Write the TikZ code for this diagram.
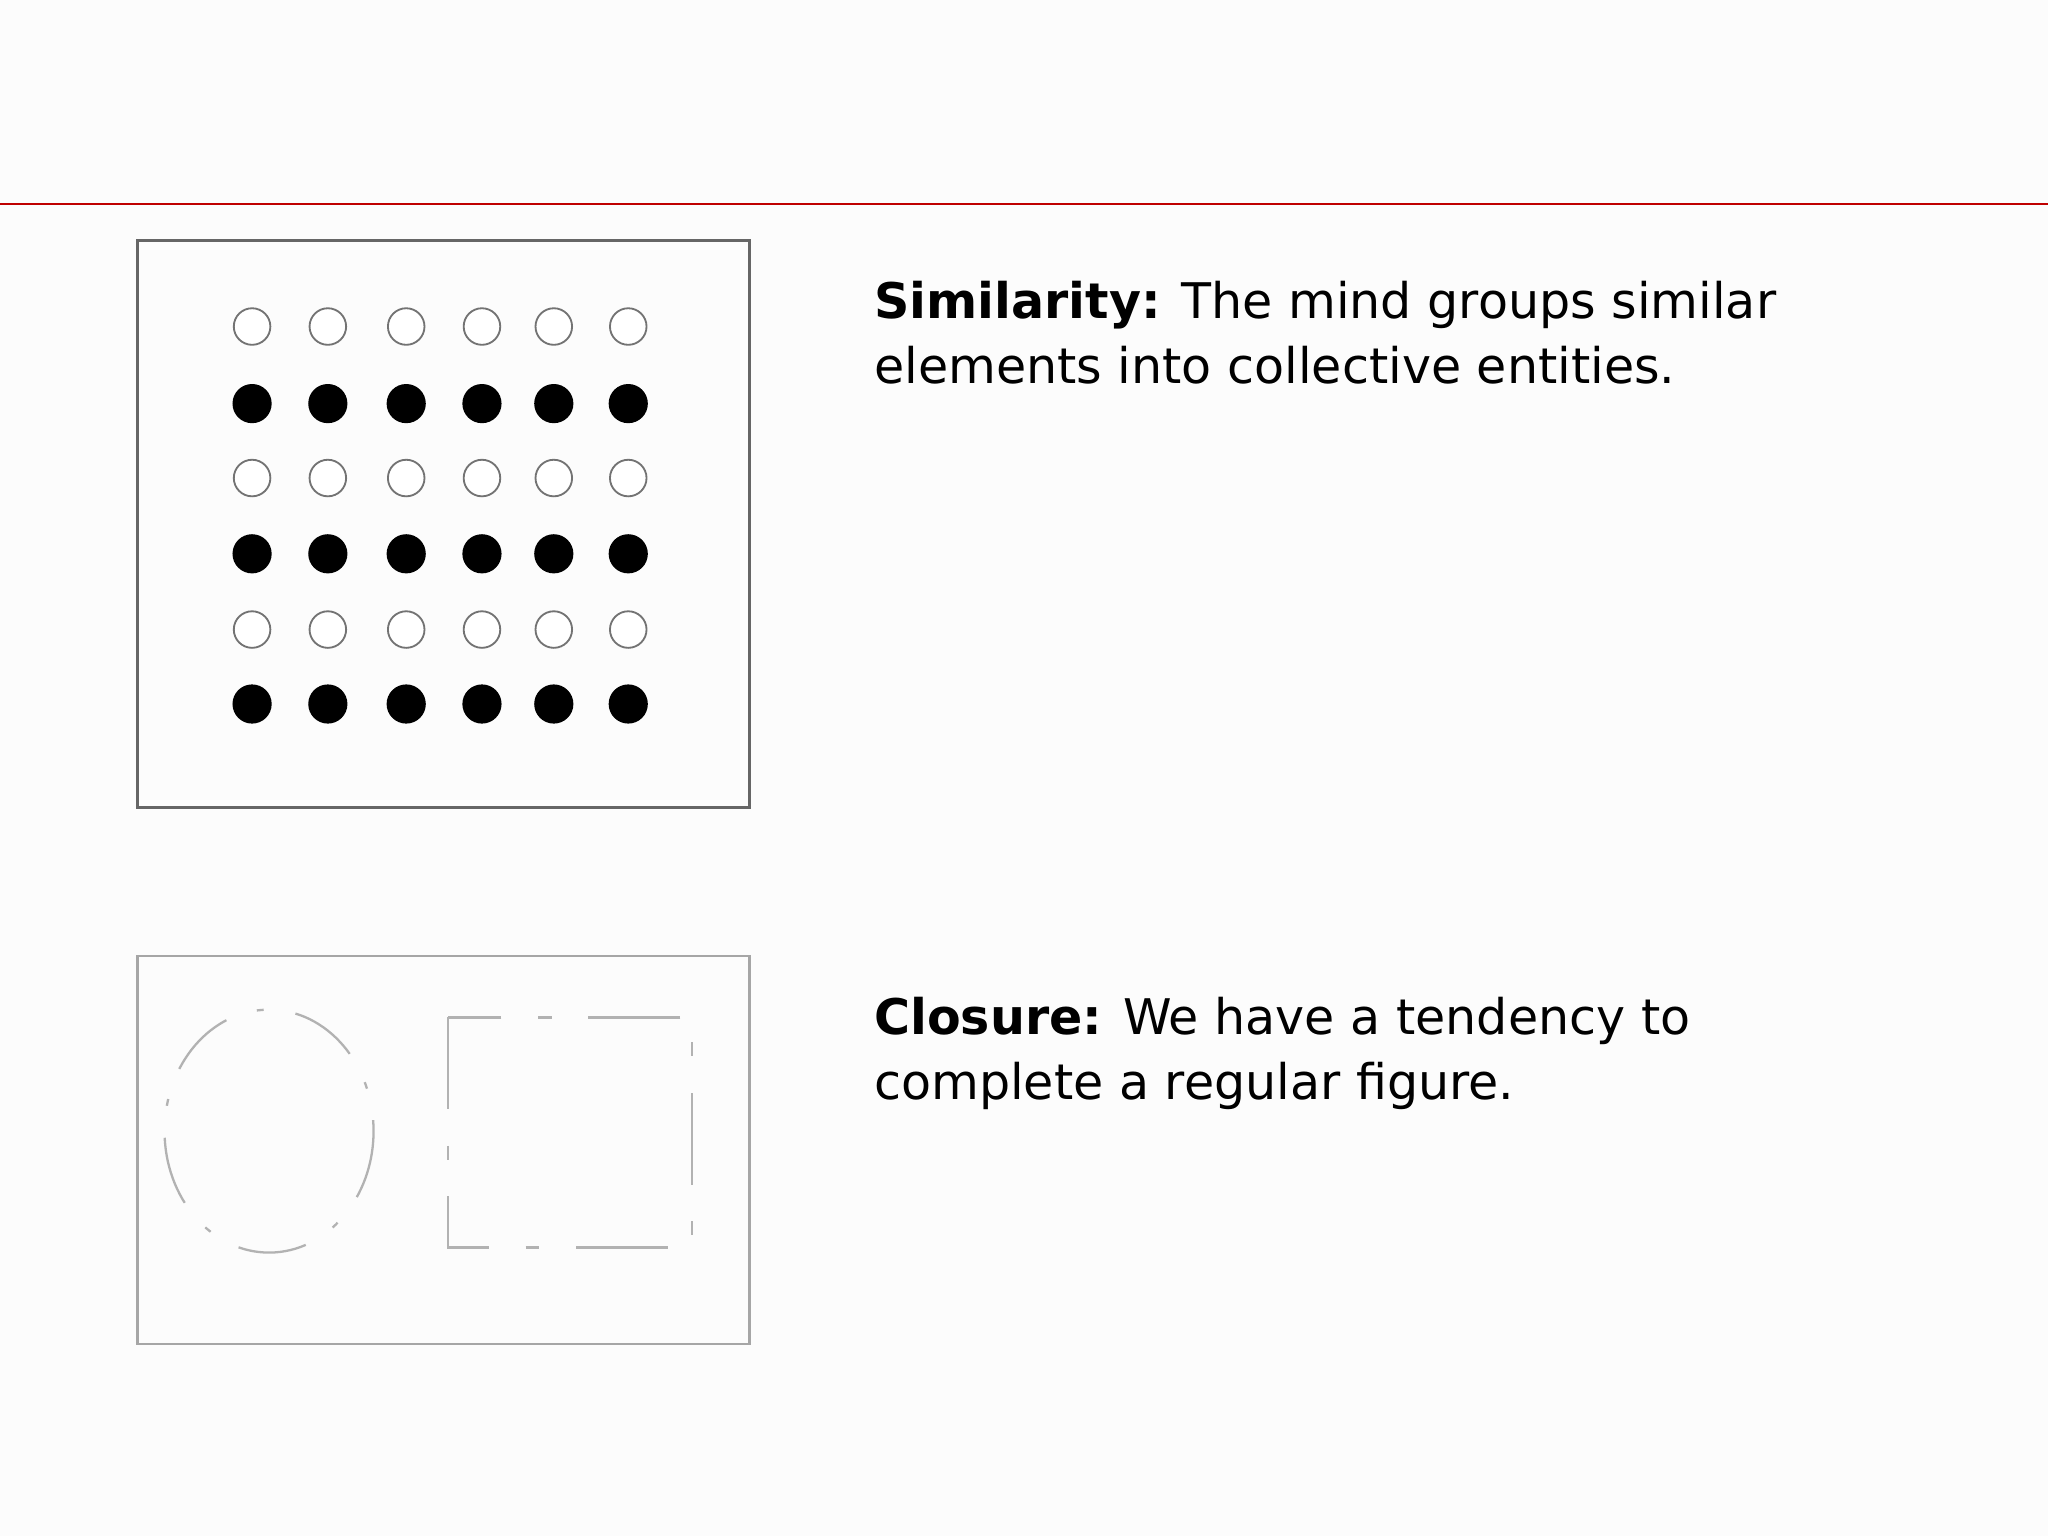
\documentclass[tikz,border=0pt]{standalone}
\usepackage{fontspec}
\setmainfont{DejaVu Sans}
\begin{document}
\begin{tikzpicture}[x=0.02cm,y=-0.02cm,
  opendot/.style={draw=black!55,line width=0.8pt,fill=white},
  fulldot/.style={fill=black},
  txt/.style={anchor=north west,align=left,font=\fontsize{21.4}{28.4}\selectfont,inner sep=0pt}]
\useasboundingbox (0,0) rectangle (1568,1176);
\fill[white!98!gray] (0,0) rectangle (1568,1176);
\draw[red!75!black,line width=1pt] (0,156) -- (1568,156);
\draw[black!60,line width=1.2pt] (105,184) rectangle (574,618);
\foreach \x in {193,251,311,369,424,481}{
  \foreach \y in {250,366,482}{\draw[opendot] (\x,\y) circle (14);}
  \foreach \y in {309,424,539}{\fill[fulldot] (\x,\y) circle (15);}
}
\node[txt] (sim) at (669,215) {\textbf{Similarity:} The mind groups similar\\elements into collective entities.};
\draw[black!35,line width=1.2pt] (105,732) rectangle (574,1029);
\draw[black!30,line width=1pt,dash pattern=on 30pt off 14pt on 3pt off 14pt] (206,866) ellipse (80 and 93);
\draw[black!30,line width=1pt,dash pattern=on 40pt off 16pt on 6pt off 16pt] (343,779) rectangle (530,955);
\node[txt] (clo) at (669,763) {\textbf{Closure:} We have a tendency to\\complete a regular figure.};
\end{tikzpicture}
\end{document}
